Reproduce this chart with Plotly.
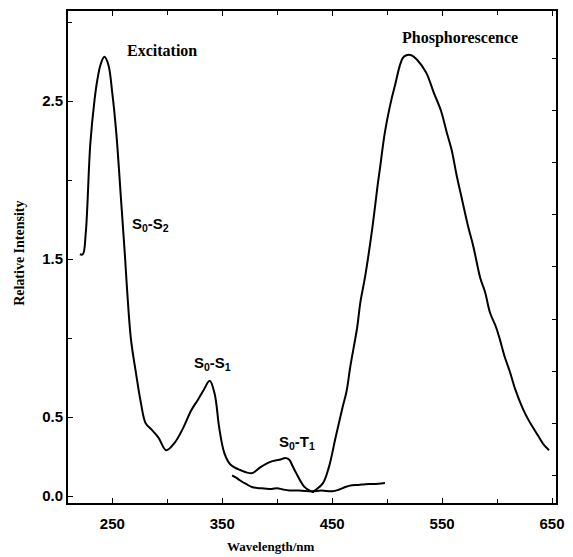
import plotly.graph_objects as go

# Excitation spectrum
exc_wl = [220.5, 223.2, 225.8, 230, 233.9, 236.3, 239.3, 242.8, 246.4, 250, 253.6, 258, 261.6,
          263.5, 267, 271.5, 276, 280.4, 285.8, 292, 299, 307, 314.4, 321.6, 327.9, 333, 338.6,
          343, 347.5, 352, 357.4, 366.3, 377, 384.2, 393.2, 402, 408, 411, 414, 417.3, 424.5,
          430.8, 433.5]
exc_int = [1.53, 1.53, 1.66, 2.23, 2.51, 2.63, 2.73, 2.78, 2.73, 2.55, 2.30, 1.87, 1.51,
           1.30, 0.99, 0.78, 0.59, 0.46, 0.42, 0.37, 0.29, 0.34, 0.43, 0.54, 0.61, 0.67, 0.73,
           0.65, 0.42, 0.27, 0.20, 0.165, 0.145, 0.18, 0.215, 0.23, 0.24, 0.23, 0.19, 0.145, 0.06,
           0.03, 0.025]

# Phosphorescence spectrum
pho_wl = [431.7, 435.2, 441.5, 446.9, 453.1, 459.4, 463, 466.5, 472.8, 475.5, 480, 486.2, 491.6,
          493.4, 497.9, 502.3, 506.8, 514, 517.5, 522, 527.4, 535.5, 542.6, 548.9, 554.3, 558.7,
          563.2, 567.7, 573.9, 578.4, 584.7, 589.1, 593.6, 599, 602.6, 607, 611.5, 616.8, 623,
          627.9, 632.1, 637.5, 643, 647.3]
pho_int = [0.025, 0.04, 0.08, 0.18, 0.37, 0.56, 0.66, 0.82, 1.07, 1.22, 1.39, 1.68, 1.98,
           2.07, 2.30, 2.46, 2.59, 2.77, 2.79, 2.79, 2.76, 2.68, 2.55, 2.44, 2.30, 2.19,
           2.03, 1.89, 1.70, 1.58, 1.38, 1.29, 1.16, 1.07, 0.99, 0.88, 0.79, 0.67, 0.56,
           0.49, 0.44, 0.38, 0.32, 0.29]

# Baseline (lower) trace
base_wl = [359, 363, 366, 372, 377, 383, 388, 395, 400, 405, 411, 420, 432, 440, 450, 456, 462,
           468, 474, 480, 486, 492, 498]
base_int = [0.13, 0.115, 0.10, 0.075, 0.057, 0.05, 0.048, 0.045, 0.05, 0.042, 0.035, 0.035, 0.03,
            0.035, 0.03, 0.04, 0.057, 0.068, 0.07, 0.075, 0.076, 0.078, 0.082]

x_tickvals = [250, 350, 450, 550, 650]
y_tickvals = [0.0, 0.5, 1.5, 2.5]
y_ticktext = ["0.0", "0.5", "1.5", "2.5"]

line = dict(color="black", width=2)
fig = go.Figure()
for xs, ys in [(exc_wl, exc_int), (pho_wl, pho_int), (base_wl, base_int)]:
    fig.add_trace(go.Scatter(x=xs, y=ys, mode="lines", line=line, showlegend=False,
                             line_shape="spline"))

tickfont = dict(family="Liberation Sans, Arial", size=15, color="black", weight="bold")
fig.update_layout(
    width=573, height=557,
    margin=dict(l=68, r=9, t=11, b=54),
    paper_bgcolor="white", plot_bgcolor="white",
    xaxis=dict(range=[209.7, 653.6], tickvals=x_tickvals, ticks="inside", ticklen=5,
               tickcolor="black", showline=True, linecolor="black", linewidth=2,
               mirror="ticks", showgrid=False, zeroline=False, tickfont=tickfont,
               ticklabelstandoff=6,
               minor=dict(dtick=50, tick0=250, ticks="inside", ticklen=4, tickcolor="black")),
    yaxis=dict(range=[-0.044, 3.07], tickvals=y_tickvals, ticktext=y_ticktext, ticks="inside",
               ticklen=5, tickcolor="black", showline=True, linecolor="black", linewidth=2,
               mirror=True, showgrid=False, zeroline=False, tickfont=tickfont,
               minor=dict(dtick=0.5, tick0=0, ticks="inside", ticklen=4, tickcolor="black")),
    yaxis2=dict(range=[-0.044, 3.07], overlaying="y", side="right", ticks="inside",
                ticklen=4, tickcolor="black", showticklabels=False, showgrid=False,
                zeroline=False, dtick=0.33, tick0=0.13, showline=False),
)
# invisible trace to activate the right axis
fig.add_trace(go.Scatter(x=[None], y=[None], yaxis="y2", showlegend=False))

serif = dict(family="Liberation Serif, Times New Roman", size=16, color="black", weight="bold")
sans = dict(family="Liberation Sans, Arial", size=15, color="black", weight="bold")
ann = [
    dict(x=295.6, y=2.82, text="Excitation", font=serif),
    dict(x=565.9, y=2.90, text="Phosphorescence", font=serif),
    dict(x=285, y=1.72, text="S<sub>0</sub>-S<sub>2</sub>", font=sans),
    dict(x=341, y=0.84, text="S<sub>0</sub>-S<sub>1</sub>", font=sans),
    dict(x=418, y=0.34, text="S<sub>0</sub>-T<sub>1</sub>", font=sans),
]
for a in ann:
    fig.add_annotation(xref="x", yref="y", showarrow=False, xanchor="center", yanchor="middle", **a)

fig.add_annotation(xref="paper", yref="paper", x=0.417, y=-0.089, text="Wavelength/nm",
                   showarrow=False, xanchor="center", yanchor="middle",
                   font=dict(family="Liberation Serif, Times New Roman", size=13, color="black",
                             weight="bold"))
fig.add_annotation(xref="paper", yref="paper", x=-0.1008, y=0.508, text="Relative Intensity",
                   showarrow=False, textangle=-90, xanchor="center", yanchor="middle",
                   font=dict(family="Liberation Serif, Times New Roman", size=14, color="black",
                             weight="bold"))

fig.write_html("out.html")
